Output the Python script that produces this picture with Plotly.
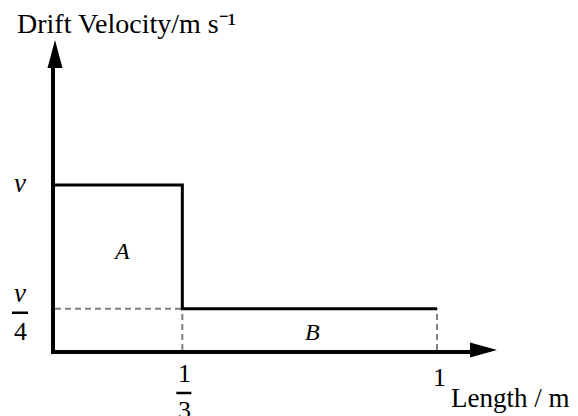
import plotly.graph_objects as go

# drift velocity in the two sections of the wire (in units of v/4)
lengths = [0, 1 / 3, 1]          # section boundaries / m
velocity = [4, 1, 1]             # v, v/4, v/4
v_full = 4
v_quarter = 1
region_labels = ["A", "B"]
region_x = [0.175, 0.675]
region_y = [2.4, 0.44]

x_top = 1.0864
y_top = 6.836
serif = "Liberation Serif"

fig = go.Figure()

# dashed guide lines to the axes
third = lengths[1]
end = lengths[2]
fig.add_trace(go.Scatter(
    x=[0, third, None, third, third, None, end, end],
    y=[v_quarter, v_quarter, None, 0, v_quarter, None, 0, v_quarter],
    mode="lines", line=dict(color="#808080", width=2, dash="6px,4px"),
    hoverinfo="skip"))

# stepped drift velocity
fig.add_trace(go.Scatter(
    x=lengths, y=velocity, mode="lines", line_shape="hv",
    line=dict(color="black", width=3), hoverinfo="skip"))

# arrowheads at the end of both axes
fig.add_shape(type="path", xref="paper", yref="paper",
              xsizemode="pixel", ysizemode="pixel", xanchor=1, yanchor=0,
              path="M0,7.5 L27,0 L0,-7.5 Z", fillcolor="black", line_width=0)
fig.add_shape(type="path", xref="paper", yref="paper",
              xsizemode="pixel", ysizemode="pixel", xanchor=0, yanchor=1,
              path="M-7.5,0 L0,28 L7.5,0 Z", fillcolor="black", line_width=0)

# fraction bars for v/4 and 1/3
fig.add_shape(type="line", xref="paper", yref="paper",
              xsizemode="pixel", ysizemode="pixel",
              xanchor=0, yanchor=v_quarter / y_top,
              x0=-43, x1=-27, y0=-4, y1=-4, line=dict(color="black", width=2.5))
fig.add_shape(type="line", xref="paper", yref="paper",
              xsizemode="pixel", ysizemode="pixel",
              xanchor=third / x_top, yanchor=0,
              x0=-6, x1=9, y0=-43, y1=-43, line=dict(color="black", width=2.5))

num = dict(family=serif, size=26, color="black")
vee = dict(family=serif, size=27, color="black")
fig.add_annotation(x=0, y=v_full, text="<i>v</i>", showarrow=False,
                   xshift=-35, yshift=2, font=vee)
fig.add_annotation(x=0, y=v_quarter, text="<i>v</i>", showarrow=False,
                   xshift=-35, yshift=16, font=vee)
fig.add_annotation(x=0, y=v_quarter, text="4", showarrow=False,
                   xshift=-35, yshift=-23, font=num)
fig.add_annotation(x=third, y=0, text="1", showarrow=False,
                   xshift=2, yshift=-23, font=num)
fig.add_annotation(x=third, y=0, text="3", showarrow=False,
                   xshift=2, yshift=-60, font=num)
fig.add_annotation(x=end, y=0, text="1", showarrow=False,
                   xshift=2, yshift=-27, font=num)
fig.add_annotation(x=end, y=0, text="Length / m", showarrow=False,
                   xanchor="left", xshift=12, yshift=-48,
                   font=dict(family=serif, size=27, color="black"))
for name, rx, ry in zip(region_labels, region_x, region_y):
    fig.add_annotation(x=rx, y=ry, text=f"<i>{name}</i>", showarrow=False,
                       font=dict(family=serif, size=24, color="black"))

# the page puts the figure 8px in from the top-left corner
fig.update_layout(
    width=570, height=408,
    margin=dict(l=47, r=108, t=60, b=66),
    paper_bgcolor="white", plot_bgcolor="white",
    showlegend=False,
    title=dict(text="Drift Velocity/m s\u207b\u00b9",
               xref="container", yref="container", x=9 / 570, y=1 - 15 / 408,
               xanchor="left", yanchor="middle",
               font=dict(family=serif, size=28, color="black")),
)
fig.update_xaxes(range=[0, x_top], showline=True, linewidth=4, linecolor="black",
                 showgrid=False, zeroline=False, showticklabels=False, ticks="")
fig.update_yaxes(range=[0, y_top], showline=True, linewidth=4, linecolor="black",
                 showgrid=False, zeroline=False, showticklabels=False, ticks="")

fig.write_html("out.html")
